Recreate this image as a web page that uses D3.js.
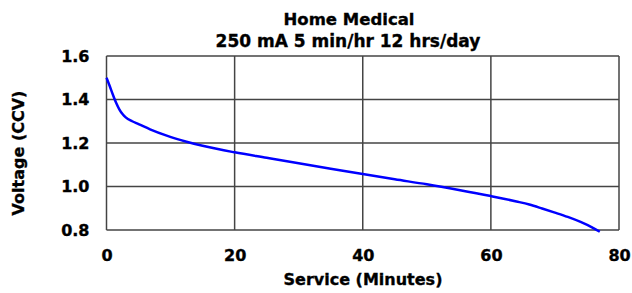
<!DOCTYPE html>
<html><head><meta charset="utf-8">
<script src="https://cdn.jsdelivr.net/npm/d3@7/dist/d3.min.js"></script>
<style>
html,body{margin:0;padding:0;background:#fff;}
text{font-family:"DejaVu Sans",Verdana,sans-serif;font-weight:bold;fill:#000;stroke:#000;stroke-width:0.35px;}
</style></head>
<body><svg id="chart" width="632" height="293"></svg>
<script>
const titleLines = ["Home Medical", "250 mA 5 min/hr 12 hrs/day"];
const xLabel = "Service (Minutes)";
const yLabel = "Voltage (CCV)";
const xTicks = [0, 20, 40, 60, 80];
const yTicks = [0.8, 1.0, 1.2, 1.4, 1.6];
const minutes = [0, 0.5, 1, 1.5, 2, 2.5, 3, 4, 5, 6.8, 9.4, 12.5, 15, 20, 25, 30, 35, 40, 45, 50, 55, 60, 62, 64, 66, 68, 70, 72, 74, 76, 77];
const volts   = [1.50, 1.462, 1.422, 1.385, 1.355, 1.333, 1.318, 1.300, 1.287, 1.263, 1.234, 1.206, 1.187, 1.157, 1.132, 1.107, 1.082, 1.057, 1.033, 1.010, 0.984, 0.956, 0.944, 0.931, 0.917, 0.899, 0.880, 0.860, 0.837, 0.809, 0.792];

const svg = d3.select("#chart");
svg.append("rect").attr("width",632).attr("height",293).attr("fill","#fff");
const L = 106.5, R = 619, T = 56, B = 230;
const x = d3.scaleLinear().domain([0,80]).range([L,R]);
const y = d3.scaleLinear().domain([0.8,1.6]).range([B,T]);

// gridlines
const grid = svg.append("g").attr("stroke","#444").attr("stroke-width",1.5);
grid.selectAll("line.h").data(yTicks).join("line").attr("class","h")
  .attr("x1",L).attr("x2",R).attr("y1",d=>y(d)).attr("y2",d=>y(d));
grid.selectAll("line.v").data(xTicks).join("line").attr("class","v")
  .attr("y1",T).attr("y2",B).attr("x1",d=>x(d)).attr("x2",d=>x(d));

// axes (labels only)
const ya = svg.append("g").attr("transform",`translate(${L},0)`)
  .call(d3.axisLeft(y).tickValues(yTicks).tickSize(0).tickPadding(17).tickFormat(d3.format(".1f")));
const xa = svg.append("g").attr("transform",`translate(0,${B})`)
  .call(d3.axisBottom(x).tickValues(xTicks).tickSize(0).tickPadding(20).tickFormat(d3.format("d")));
[ya,xa].forEach(a=>{a.select(".domain").remove();a.selectAll("text").attr("font-size",16).attr("font-family","DejaVu Sans").attr("font-weight","bold").attr("fill","#000");});

// line
const data = minutes.map((m,i)=>[m,volts[i]]);
svg.append("path").datum(data).attr("fill","none").attr("stroke","#0000ff").attr("stroke-width",2.5)
  .attr("d", d3.line().x(d=>x(d[0])).y(d=>y(d[1])).curve(d3.curveMonotoneX));

// titles
svg.append("text").attr("x",349).attr("y",25).attr("text-anchor","middle").attr("font-size",16.5).text(titleLines[0]);
svg.append("text").attr("x",348).attr("y",47).attr("text-anchor","middle").attr("font-size",17).text(titleLines[1]);
svg.append("text").attr("x",363).attr("y",285).attr("text-anchor","middle").attr("font-size",16).text(xLabel);
svg.append("text").attr("transform","translate(24,153) rotate(-90)").attr("text-anchor","middle").attr("font-size",16).text(yLabel);
</script></body></html>
